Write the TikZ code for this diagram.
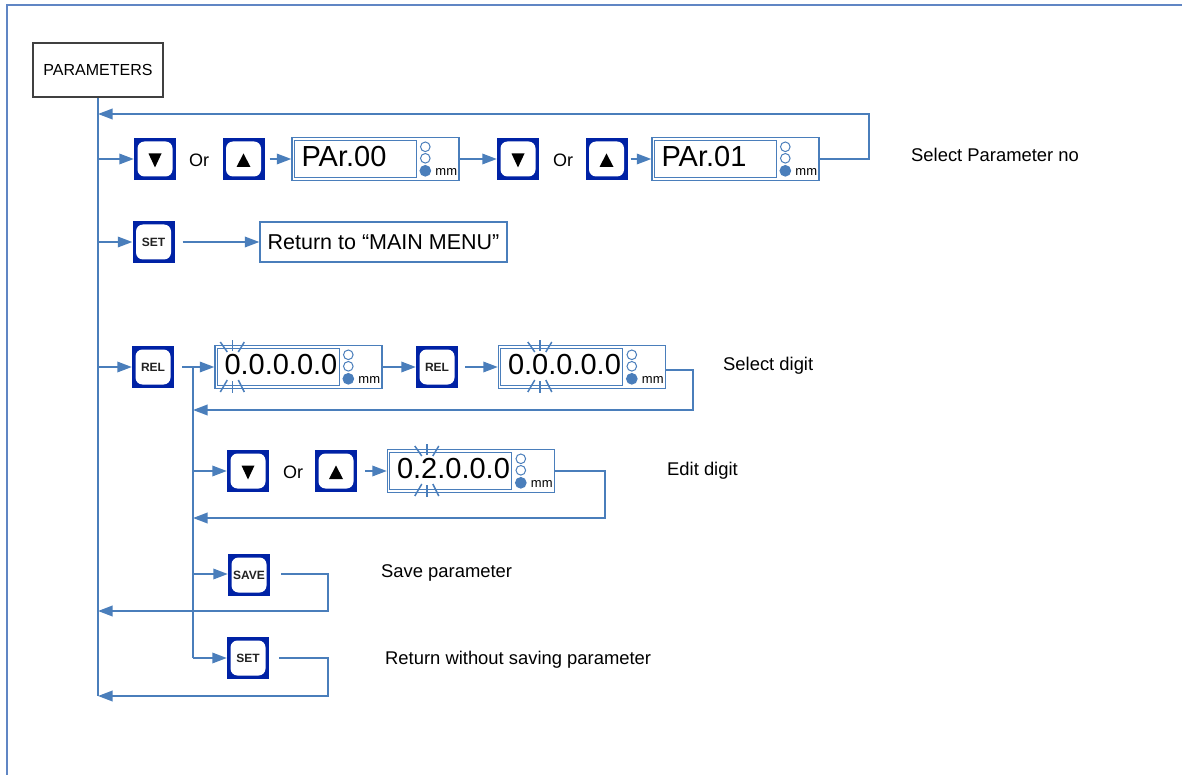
\documentclass[tikz,border=0pt]{standalone}
\usepackage{fontspec}
\setmainfont{Liberation Sans}
\usetikzlibrary{arrows.meta,calc}
\definecolor{lineblue}{RGB}{74,126,187}
\definecolor{frameblue}{RGB}{96,134,196}
\definecolor{btnblue}{RGB}{0,34,165}
\definecolor{boxgray}{RGB}{64,64,64}
\definecolor{btntext}{RGB}{34,34,34}
\tikzset{
  conn/.style={draw=lineblue, line width=1.8pt},
  arr/.style={conn, -{Triangle[length=14.5pt,width=10.5pt]}},
  btn/.style={rectangle, minimum width=42pt, minimum height=42pt, inner sep=0pt,
    fill=btnblue, text=btntext, font=\fontsize{12}{13}\selectfont\bfseries,
    path picture={\fill[white, rounded corners=7pt]
      ([shift={(3.5pt,3.5pt)}]path picture bounding box.south west) rectangle
      ([shift={(-3.5pt,-3.5pt)}]path picture bounding box.north east);}},
  disp/.style={rectangle, draw=lineblue, line width=1.4pt, minimum width=167pt, minimum height=43pt, inner sep=0pt},
  dispin/.style={draw=lineblue, line width=1.2pt},
  disptext/.style={inner sep=0pt, font=\fontsize{29}{30}\selectfont},
  mmtext/.style={inner sep=0pt, font=\fontsize{13}{14}\selectfont},
  led/.style={draw=lineblue, line width=1pt},
  blinkline/.style={draw=lineblue, line width=1.5pt},
  lbl/.style={anchor=west, inner sep=0pt, font=\fontsize{18.4}{20}\selectfont},
  ortext/.style={inner sep=0pt, font=\fontsize{18}{20}\selectfont},
}
\newcommand\mydisp[4]{%
  \node[disp] (#1) at (#2,#3) {};
  \draw[dispin] ($(#1.north west)+(3,4)$) rectangle ($(#1.south west)+(125,-4)$);
  \node[disptext, anchor=base west] at ($(#1.north west)+(10,30)$) {#4};
  \draw[led] ($(#1.north west)+(134,10)$) circle[radius=4.8pt];
  \draw[led] ($(#1.north west)+(134,21.5)$) circle[radius=4.8pt];
  \filldraw[led, fill=lineblue] ($(#1.north west)+(134,34)$) circle[radius=5.3pt];
  \node[mmtext, anchor=base] at ($(#1.south west)+(155,-6)$) {mm};
}
\newcommand\myblink[2]{%
  \draw[blinkline] ($(#1.west)+(#2,-27)$) -- ($(#1.west)+(#2,-16)$);
  \draw[blinkline] ($(#1.west)+(#2-12,-25)$) -- ($(#1.west)+(#2-5,-15)$);
  \draw[blinkline] ($(#1.west)+(#2+12,-25)$) -- ($(#1.west)+(#2+6,-15)$);
  \draw[blinkline] ($(#1.west)+(#2,14)$) -- ($(#1.west)+(#2,26)$);
  \draw[blinkline] ($(#1.west)+(#2-5,13)$) -- ($(#1.west)+(#2-12,25)$);
  \draw[blinkline] ($(#1.west)+(#2+6,13)$) -- ($(#1.west)+(#2+12,25)$);
}
\newcommand\downtri[1]{\fill[black] ($(#1.center)+(-6.5,-5.5)$) -- ($(#1.center)+(6.5,-5.5)$) -- ($(#1.center)+(0,8.5)$) -- cycle;}
\newcommand\uptri[1]{\fill[black] ($(#1.center)+(-7,8)$) -- ($(#1.center)+(7,8)$) -- ($(#1.center)+(0,-5.5)$) -- cycle;}
\begin{document}
\begin{tikzpicture}[x=1pt,y=-1pt]
\useasboundingbox (0,0) rectangle (1182,775);
% frame
\draw[frameblue, line width=1.5pt] (7,776) -- (7,5) -- (1183,5);
% title box
\node[draw=boxgray, line width=1.8pt, minimum width=130pt, minimum height=54pt, inner sep=0pt,
  font=\fontsize{16}{18}\selectfont] (params) at (98,70) {PARAMETERS};
% trunk coordinates
\coordinate (tTop) at (98,114);
\coordinate (t1) at (98,159);
\coordinate (tSet) at (98,242);
\coordinate (tRel) at (98,367);
\coordinate (tSave) at (98,611);
\coordinate (tEnd) at (98,696);
\coordinate (b0) at (193,367);
\coordinate (bFb1) at (193,410);
\coordinate (bEdit) at (193,471);
\coordinate (bFb2) at (193,518);
\coordinate (bSave) at (193,574);
\coordinate (bEnd) at (193,658);
% row 1
\node[btn] (dn1) at (155,159) {};
\node[ortext] (or1) at (199,160) {Or};
\node[btn] (up1) at (243.5,159) {};
\mydisp{par0}{375.5}{159}{PAr.00}
\node[btn] (dn2) at (518,159) {};
\node[ortext] (or2) at (563,160) {Or};
\node[btn] (up2) at (606.5,159) {};
\mydisp{par1}{735.5}{159}{PAr.01}
\downtri{dn1}\uptri{up1}\downtri{dn2}\uptri{up2}
\node[lbl] (lsel) at (911,155) {Select Parameter no};
% SET row
\node[btn] (set1) at (153.5,242) {SET};
\node[draw=lineblue, line width=1.3pt, minimum width=247pt, minimum height=40pt, inner sep=0pt,
  font=\fontsize{21.5}{24}\selectfont] (mainmenu) at (383.5,242) {Return to “MAIN MENU”};
% REL row
\node[btn] (rel1) at (153,367) {REL};
\mydisp{disp1}{298.5}{367}{0.0.0.0.0}
\myblink{disp1}{18}
\node[btn] (rel2) at (437,367) {REL};
\mydisp{disp2}{582}{367}{0.0.0.0.0}
\myblink{disp2}{42}
\node[lbl] (ldig) at (723,366) {Select digit};
% edit row
\node[btn] (dn3) at (248,471) {};
\node[ortext] (or3) at (293,472) {Or};
\node[btn] (up3) at (336,471) {};
\mydisp{disp3}{471}{471}{0.2.0.0.0}
\myblink{disp3}{40}
\downtri{dn3}\uptri{up3}
\node[lbl] (ledit) at (667,471) {Edit digit};
% save / set rows
\node[btn] (save) at (249,575) {SAVE};
\node[lbl] (lsave) at (381,573) {Save parameter};
\node[btn] (set2) at (248,658) {SET};
\node[lbl] (lret) at (385,660) {Return without saving parameter};
% connectors
\draw[conn] (params.south) -- (tEnd);
\draw[conn] (b0) -- (bEnd);
\draw[arr] (t1) -- (dn1.west);
\draw[arr] ([xshift=5pt]up1.east) -- (par0.west);
\draw[arr] (par0.east) -- (dn2.west);
\draw[arr] ([xshift=3pt]up2.east) -- (par1.west);
\draw[arr] (par1.east) -- ++(49,0) |- (tTop);
\draw[arr] (tSet) -- (set1.west);
\draw[arr] ([xshift=8pt]set1.east) -- (mainmenu.west);
\draw[arr] (tRel) -- (rel1.west);
\draw[arr] ([xshift=8pt]rel1.east) -- (disp1.west);
\draw[arr] (disp1.east) -- (rel2.west);
\draw[arr] ([xshift=7pt]rel2.east) -- (disp2.west);
\draw[arr] ([yshift=-3pt]disp2.east) -- ++(27,0) |- (bFb1);
\draw[arr] (bEdit) -- (dn3.west);
\draw[arr] ([xshift=8pt]up3.east) -- (disp3.west);
\draw[arr] (disp3.east) -- ++(50,0) |- (bFb2);
\draw[arr] (bSave) -- ([yshift=1pt]save.west);
\draw[arr] ([xshift=11pt,yshift=1pt]save.east) -- ++(47,0) |- (tSave);
\draw[arr] (bEnd) -- (set2.west);
\draw[arr] ([xshift=10pt]set2.east) -- ++(49,0) |- (tEnd);
\end{tikzpicture}
\end{document}
